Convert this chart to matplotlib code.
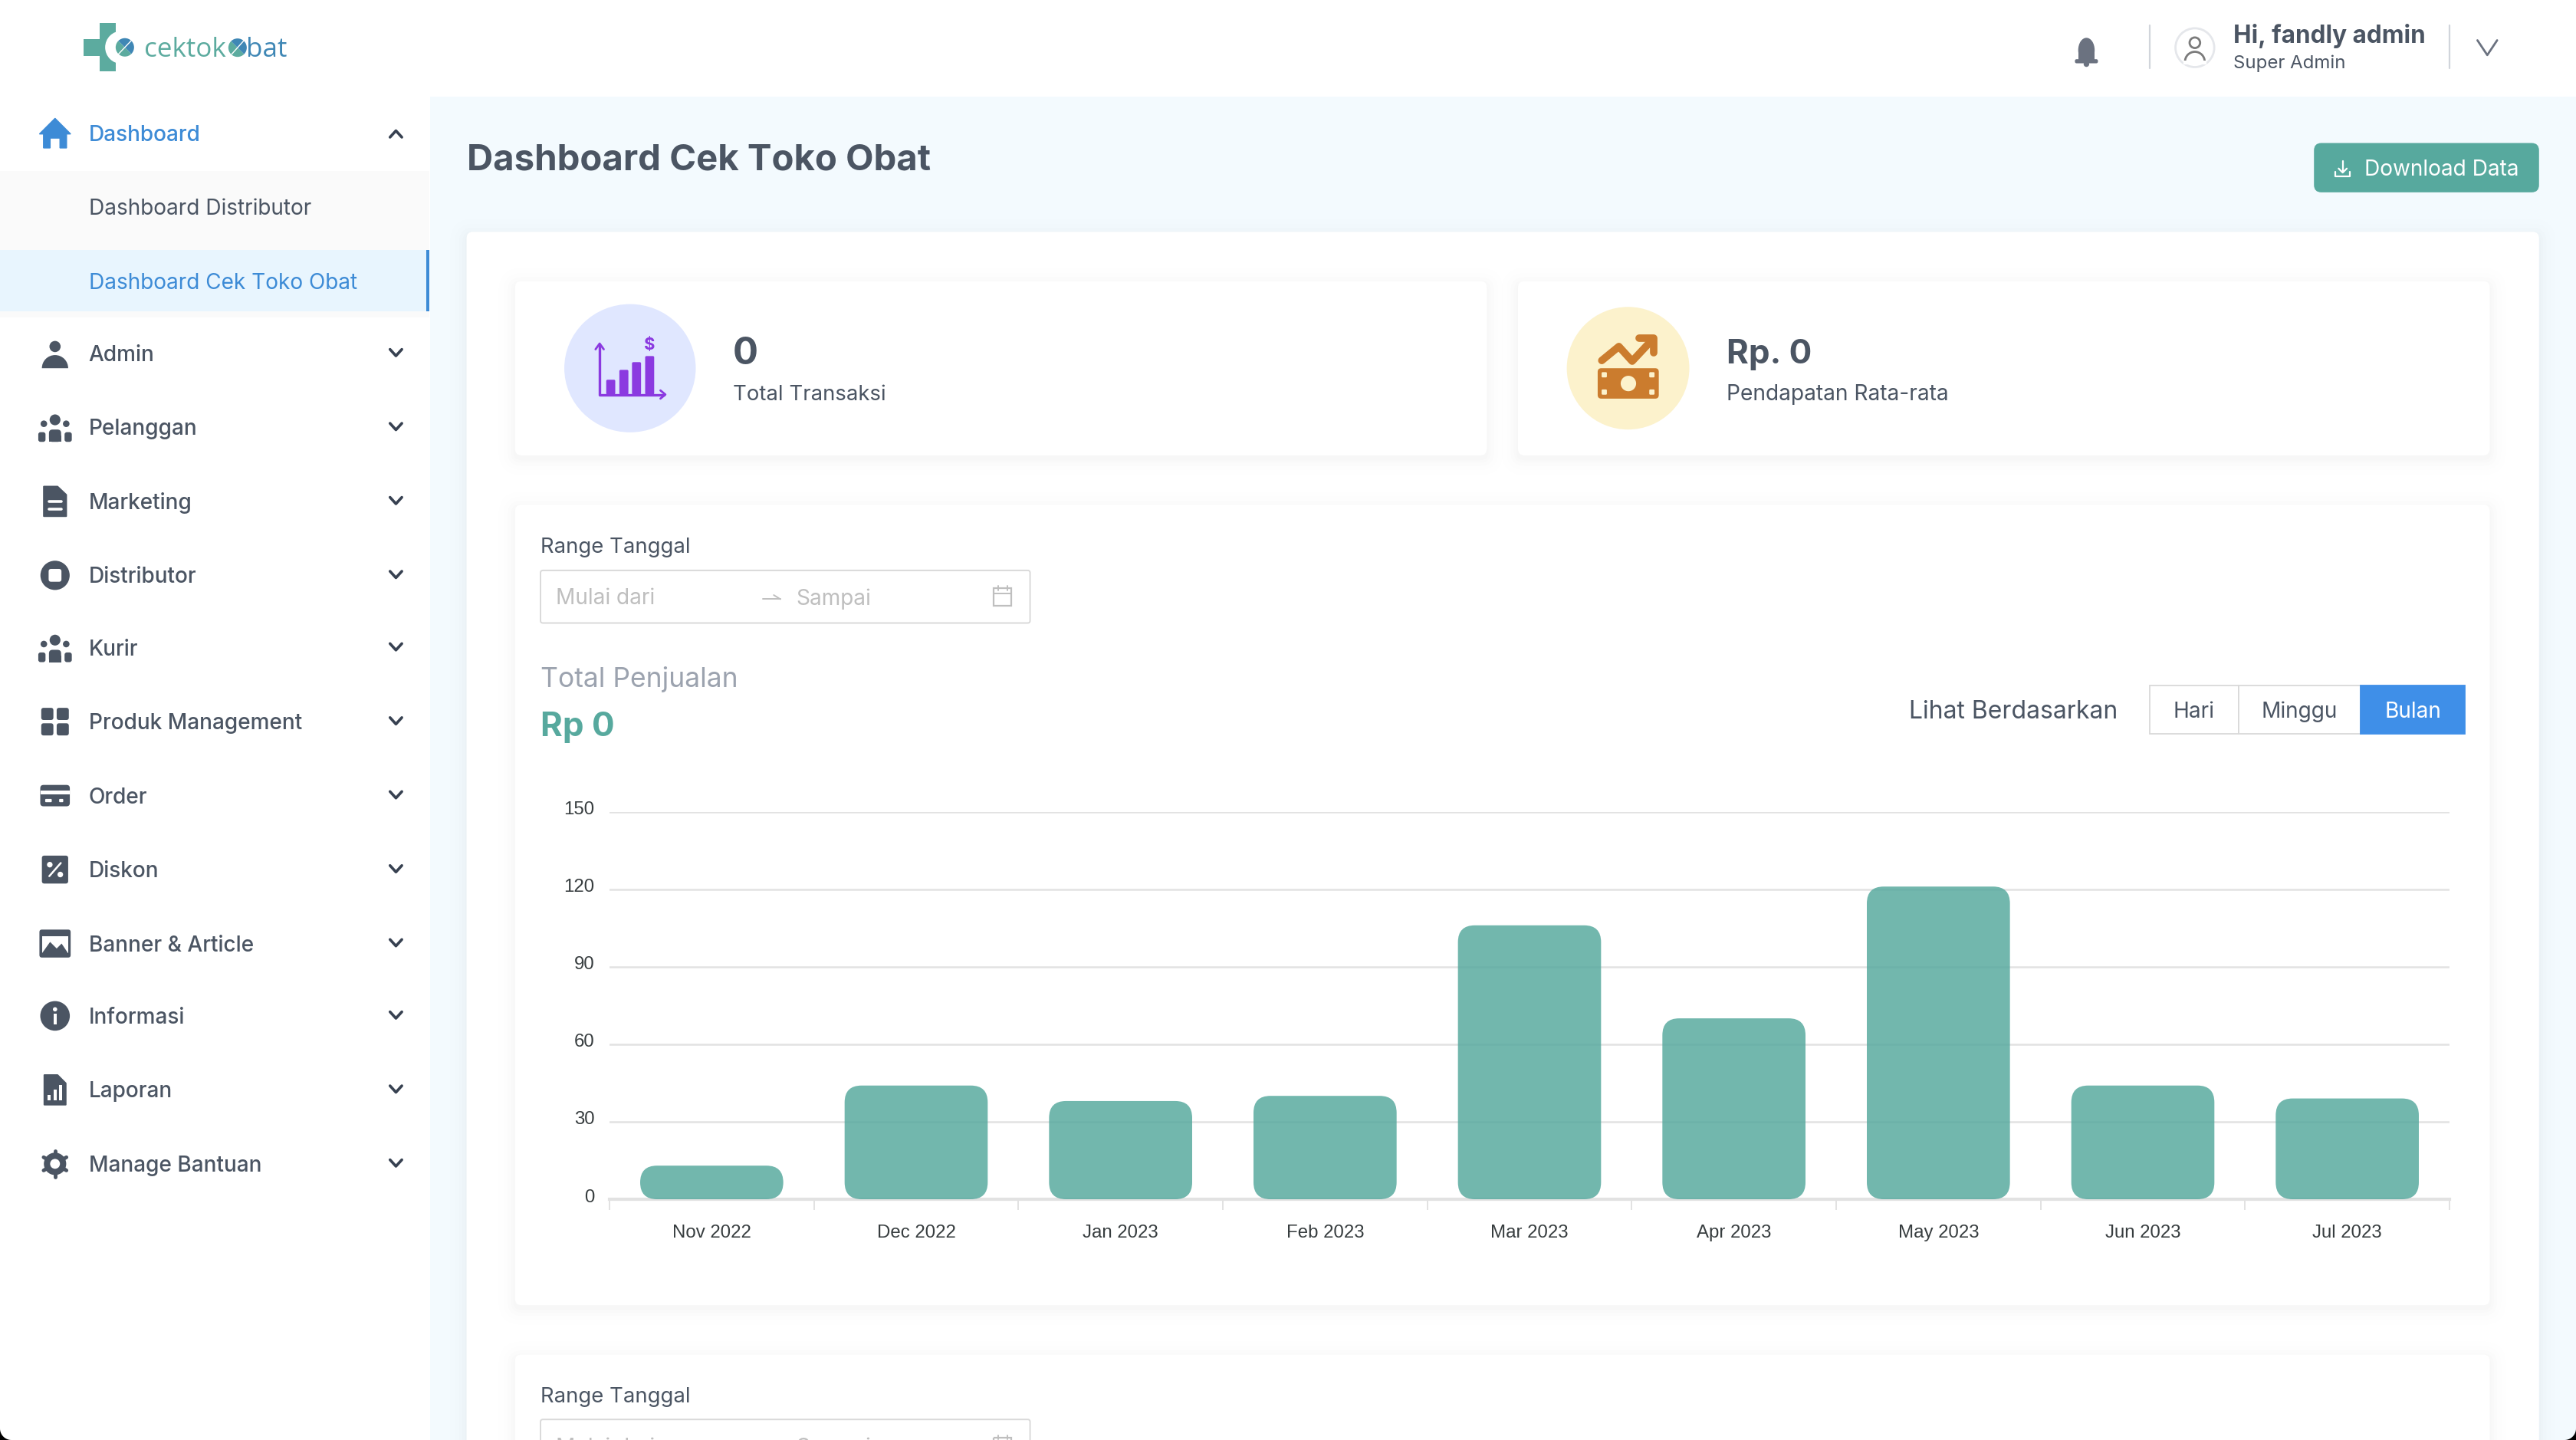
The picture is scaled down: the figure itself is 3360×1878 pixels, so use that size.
import numpy as np
import matplotlib
matplotlib.use("Agg")
import matplotlib.pyplot as plt
from matplotlib.patches import FancyBboxPatch, Circle, Ellipse, Polygon, Rectangle, Wedge
from matplotlib.transforms import ScaledTranslation

plt.rcParams['font.family'] = ['Inter', 'DejaVu Sans']

# chart data
months = ["Nov 2022", "Dec 2022", "Jan 2023", "Feb 2023", "Mar 2023",
          "Apr 2023", "May 2023", "Jun 2023", "Jul 2023"]
sales = [13, 44, 38, 40, 106, 70, 121, 44, 39]
y_ticks = [0, 30, 60, 90, 120, 150]

# sidebar menu
menu_labels = ["Admin", "Pelanggan", "Marketing", "Distributor", "Kurir", "Produk Management",
               "Order", "Diskon", "Banner & Article", "Informasi", "Laporan", "Manage Bantuan"]
menu_rows = [215, 260, 305, 350, 394, 439, 484, 529, 574, 618, 663, 708]
period_labels = ["Hari", "Minggu", "Bulan"]

GREY = "#4B5563"
BLUE = "#3D8BD6"
TEAL = "#57A99E"
PAGE_BG = "#F3FAFE"

W, H = 3360, 1878
fig = plt.figure(figsize=(W / 100, H / 100), dpi=100, facecolor="white")

# page axes, coordinates follow the screenshot at 1568 wide
bg = fig.add_axes([0, 0, 1, 1])
bg.set_xlim(0, 1568)
bg.set_ylim(876, 0)
bg.axis("off")


def px(size):
    # font height in image pixels to points
    return size * 0.72


def box(x0, y0, x1, y1, color, r=0.0, ax=bg, z=1, ec="none", lw=0):
    p = FancyBboxPatch((x0, y0), x1 - x0, y1 - y0, boxstyle=f"round,pad=0,rounding_size={r}",
                       fc=color, ec=ec, lw=lw, zorder=z)
    ax.add_patch(p)
    return p


def txt(x, y, s, size, color=GREY, weight="normal", ha="left", family=None, z=10):
    kw = {}
    if family:
        kw["family"] = family
    # Inter sits a little high with va=center
    return bg.text(x, y + 1.2, s, fontsize=px(size), color=color, fontweight=weight, ha=ha, va="center",
                   zorder=z, parse_math=False, **kw)


def card(x0, y0, x1, y1, r=4, z=2):
    # soft shadow, a few stacked translucent boxes
    for grow, a in [(10, 0.004), (7, 0.005), (4.5, 0.007), (2.5, 0.009), (1, 0.009)]:
        p = box(x0 - grow, y0 - grow + 2, x1 + grow, y1 + grow + 2, "black", r + grow, z=z)
        p.set_alpha(a)
    box(x0, y0, x1, y1, "white", r, z=z + 0.1)


def line(xs, ys, color=GREY, lw=2.0, z=10):
    bg.plot(xs, ys, color=color, lw=lw, zorder=z, solid_capstyle="round", solid_joinstyle="round")


def chevron(x, y, up=False, size=3.6, color="#374151", lw=2.6):
    d = -1 if up else 1
    line([x - size, x, x + size], [y - d * size * 0.55, y + d * size * 0.55, y - d * size * 0.55], color, lw)


def person(x, y, c=GREY, z=10):
    bg.add_patch(Circle((x, y - 4.2), 3.4, fc=c, ec="none", zorder=z))
    bg.add_patch(Wedge((x, y + 9), 8, 180, 360, fc=c, ec="none", zorder=z))


def people(x, y):
    bg.add_patch(Circle((x, y - 4.6), 3.3, fc=GREY, zorder=10))
    bg.add_patch(Circle((x - 6.8, y - 2.2), 2.0, fc=GREY, zorder=10))
    bg.add_patch(Circle((x + 6.8, y - 2.2), 2.0, fc=GREY, zorder=10))
    box(x - 3.7, y + 1.3, x + 3.7, y + 8.8, GREY, 2.2, z=10)
    bg.add_patch(Rectangle((x - 3.7, y + 5), 7.4, 3.8, fc=GREY, zorder=10))
    box(x - 10.2, y + 2.9, x - 5.8, y + 8.8, GREY, 1.4, z=10)
    box(x + 5.8, y + 2.9, x + 10.2, y + 8.8, GREY, 1.4, z=10)


def draw_icon(name, x, y):
    if name == "Admin":
        person(x, y)
    elif name in ("Pelanggan", "Kurir"):
        people(x, y)
    elif name == "Marketing":
        bg.add_patch(Polygon([(x - 6.8, y - 9), (x + 1.5, y - 9), (x + 6.8, y - 4), (x + 6.8, y + 9), (x - 6.8, y + 9)],
                             fc=GREY, ec=GREY, lw=1.5, joinstyle="round", zorder=10))
        line([x - 3.6, x + 3.6], [y + 0.2, y + 0.2], "white", 2.6, 11)
        line([x - 3.6, x + 3.6], [y + 4.5, y + 4.5], "white", 2.6, 11)
    elif name == "Distributor":
        bg.add_patch(Circle((x, y), 8.9, fc=GREY, zorder=10))
        box(x - 3.9, y - 3.9, x + 3.9, y + 3.9, "white", 1.5, z=11)
    elif name == "Produk Management":
        for dx in (-4.7, 4.7):
            for dy in (-4.7, 4.7):
                box(x + dx - 3.7, y + dy - 3.7, x + dx + 3.7, y + dy + 3.7, GREY, 1.5, z=10)
    elif name == "Order":
        box(x - 9, y - 6.5, x + 9, y + 6.5, GREY, 2, z=10)
        bg.add_patch(Rectangle((x - 9, y - 3), 18, 2.2, fc="white", zorder=11))
        box(x - 6, y + 2, x - 2, y + 4, "white", 0.5, z=11)
        box(x + 2.5, y + 2, x + 5, y + 4, "white", 0.5, z=11)
    elif name == "Diskon":
        box(x - 8, y - 8.5, x + 8, y + 8.5, GREY, 1.5, z=10)
        line([x - 3.5, x + 3.5], [y + 4, y - 4], "white", 1.8, 11)
        bg.add_patch(Circle((x - 3.2, y - 3), 1.7, fc="white", zorder=11))
        bg.add_patch(Circle((x + 3.2, y + 3), 1.7, fc="white", zorder=11))
    elif name == "Banner & Article":
        box(x - 9.5, y - 8.5, x + 9.5, y + 8.5, GREY, 1.5, z=10)
        bg.add_patch(Rectangle((x - 8, y - 4.5), 16, 10.5, fc="white", zorder=11))
        bg.add_patch(Polygon([(x - 8, y + 6), (x - 3, y - 1), (x + 1, y + 3), (x + 4, y), (x + 8, y + 6)],
                             fc=GREY, zorder=12))
    elif name == "Informasi":
        bg.add_patch(Circle((x, y), 9, fc=GREY, zorder=10))
        bg.add_patch(Circle((x, y - 4), 1.3, fc="white", zorder=11))
        bg.add_patch(Rectangle((x - 1, y - 1.5), 2, 6.5, fc="white", zorder=11))
    elif name == "Laporan":
        bg.add_patch(Polygon([(x - 6.5, y - 9), (x + 1.5, y - 9), (x + 6.5, y - 4), (x + 6.5, y + 9), (x - 6.5, y + 9)],
                             fc=GREY, ec=GREY, lw=1.5, joinstyle="round", zorder=10))
        for dx, top in [(-3.5, 3), (0, 0), (3.5, -3)]:
            bg.add_patch(Rectangle((x + dx - 1, y + top), 2, 6.5 - top, fc="white", zorder=11))
    elif name == "Manage Bantuan":
        for a in np.arange(0, 180, 60):
            t = np.deg2rad(a + 90)
            line([x - 8 * np.cos(t), x + 8 * np.cos(t)], [y - 8 * np.sin(t), y + 8 * np.sin(t)], GREY, 3.5)
        bg.add_patch(Circle((x, y), 6.8, fc=GREY, zorder=10.5))
        bg.add_patch(Circle((x, y), 3, fc="white", zorder=11))


# page backgrounds
bg.add_patch(Rectangle((262, 59), 1306, 817, fc=PAGE_BG, zorder=0))

# sidebar active group
bg.add_patch(Rectangle((0, 104), 261.5, 89, fc="#FAFAFA", zorder=1))
bg.add_patch(Rectangle((0, 152), 261.5, 37.5, fc="#E8F5FE", zorder=1.1))
bg.add_patch(Rectangle((259.5, 152), 2, 37.5, fc=BLUE, zorder=1.2))

# logo
LOGO_TEAL = "#5CAB9F"
bg.add_patch(Rectangle((60.8, 14), 9.7, 29.5, fc=LOGO_TEAL, zorder=3))
bg.add_patch(Rectangle((51, 23.6), 25, 10.3, fc=LOGO_TEAL, zorder=3))
bg.add_patch(Circle((74, 28.8), 10, fc="white", zorder=3.5))
bg.add_patch(Wedge((76, 28.8), 5.6, 45, 225, fc=LOGO_TEAL, zorder=4))
bg.add_patch(Wedge((76, 28.8), 5.6, 225, 45, fc="#3F87B5", zorder=4))
line([72, 80], [33, 24.6], "white", 1.0, 5)
txt(87.5, 29, "cektok", 35, LOGO_TEAL, "medium", family="Open Sans")
bg.add_patch(Wedge((144.6, 29), 5.6, 45, 225, fc=LOGO_TEAL, zorder=4))
bg.add_patch(Wedge((144.6, 29), 5.6, 225, 45, fc="#3F87B5", zorder=4))
line([141, 148.5], [33, 24.6], "white", 1.0, 5)
txt(150, 29, "bat", 35, "#3F87B5", "medium", family="Open Sans")

# sidebar items
bg.add_patch(Polygon([(33.5, 72), (43, 81.5), (40.5, 81.5), (40.5, 90), (36.5, 90), (36.5, 84), (30.5, 84),
                      (30.5, 90), (26.5, 90), (26.5, 81.5), (24, 81.5)], fc=BLUE, ec=BLUE, lw=1, zorder=10))
txt(54, 81, "Dashboard", 28, BLUE, "medium")
chevron(241, 81.5, up=True)
txt(54, 126, "Dashboard Distributor", 28, GREY)
txt(54, 171, "Dashboard Cek Toko Obat", 28, BLUE)
for label, row in zip(menu_labels, menu_rows):
    draw_icon(label, 33.5, row)
    txt(54, row, label, 28, GREY, "medium")
    chevron(241, row - 0.5)

# header right side
bg.add_patch(Ellipse((1270, 30.5), 10, 15, fc="#6B7280", zorder=10))
bg.add_patch(Rectangle((1265, 30.5), 10, 6, fc="#6B7280", zorder=10))
box(1263, 36, 1277, 38.5, "#6B7280", 1, z=10)
bg.add_patch(Circle((1270, 39), 1.7, fc="#6B7280", zorder=9))
line([1308.6, 1308.6], [15.5, 41.5], "#D1D5DB", 1.6)
line([1491, 1491], [15.5, 41.5], "#D1D5DB", 1.6)
bg.add_patch(Circle((1336, 29), 11.8, fc="white", ec="#E5E7EB", lw=2, zorder=10))
bg.add_patch(Circle((1336, 26), 3.2, fc="none", ec="#7B7B7B", lw=2, zorder=11))
bg.add_patch(Wedge((1336, 37.5), 6, 180, 360, fc="none", ec="#7B7B7B", lw=2, zorder=11))
bg.add_patch(Rectangle((1329, 37), 14, 2, fc="white", zorder=11.5))
txt(1359.5, 20.5, "Hi, fandly admin", 31.5, GREY, "bold")
txt(1359.5, 37.5, "Super Admin", 24, GREY)
line([1508, 1514, 1520], [24.5, 33.5, 24.5], "#6B7280", 2.0)

# title row
txt(284, 96.5, "Dashboard Cek Toko Obat", 47.3, GREY, "bold")
box(1408.5, 87, 1545.5, 117, TEAL, 4.5, z=3)
txt(1439, 102, "Download Data", 28, "white")
line([1426, 1426], [98, 104.5], "white", 1.6)
line([1423.5, 1426, 1428.5], [102.5, 105, 102.5], "white", 1.6)
line([1421.5, 1421.5, 1430.5, 1430.5], [104.5, 107.5, 107.5, 104.5], "white", 1.6)

# big white panel, runs off the bottom of the page
card(284, 141, 1545.5, 900, z=1.5)

# stat cards
card(313.5, 171, 905, 277)
card(924, 171, 1515.5, 277)

bg.add_patch(Ellipse((383.5, 224), 80, 78, fc="#E0E7FF", zorder=4))
PURPLE = "#8B3AE0"
line([365, 365, 404], [210, 240, 240], PURPLE, 2.4, 5)
line([362.5, 365, 367.5], [212.5, 209, 212.5], PURPLE, 2.0, 5)
line([402, 405, 402], [237.5, 240, 242.5], PURPLE, 2.0, 5)
for x0, top in [(369, 231), (377, 225), (384.7, 220.3), (392.7, 216.6)]:
    box(x0, top, x0 + 5.5, 240, PURPLE, 0.8, z=5)
txt(395.3, 208.5, "$", 22, PURPLE, "bold", ha="center")
txt(446, 214.5, "0", 49, GREY, "bold")
txt(446, 239, "Total Transaksi", 27.5, GREY)

ORANGE = "#CB7C2E"
CREAM = "#FCF2CC"
bg.add_patch(Circle((991, 224), 37.3, fc=CREAM, zorder=4))
box(972.5, 224, 1009.7, 242.5, ORANGE, 2.2, z=5)
bg.add_patch(Circle((991.2, 233.3), 4.7, fc=CREAM, zorder=6))
for cx, cy in [(976.5, 228), (976.5, 238.5), (1005.5, 228), (1005.5, 238.5)]:
    box(cx - 1.6, cy - 1.6, cx + 1.6, cy + 1.6, CREAM, 0.6, z=6)
line([975, 985.4, 993.5, 1005.6], [219.3, 210.8, 219.7, 206.8], ORANGE, 7, 5)
line([997.5, 1006.5, 1006.5], [205.5, 205.5, 214.5], ORANGE, 7, 5)
txt(1051, 214.5, "Rp. 0", 44, GREY, "bold")
txt(1051, 239, "Pendapatan Rata-rata", 28.2, GREY)


def date_range(y_label, y_box):
    txt(329, y_label, "Range Tanggal", 27.5, GREY)
    box(329, y_box, 627, y_box + 32, "white", 1.5, z=4, ec="#D9D9D9", lw=1.4)
    c = "#BFBFBF"
    yc = y_box + 16
    txt(338.5, yc, "Mulai dari", 28, c, z=5)
    txt(484.5, yc, "Sampai", 28, c, z=5)
    line([464.5, 475], [yc + 1.5, yc + 1.5], c, 1.4, 5)
    line([471, 475], [yc - 1, yc + 1.5], c, 1.4, 5)
    bg.add_patch(Rectangle((605, yc - 5), 10.5, 10.5, fc="none", ec=c, lw=1.6, zorder=5))
    line([605, 615.5], [yc - 2, yc - 2], c, 1.4, 5)
    line([607.5, 607.5], [yc - 6.5, yc - 4], c, 1.4, 5)
    line([613, 613], [yc - 6.5, yc - 4], c, 1.4, 5)


# sales chart card
card(313.5, 307, 1515.5, 794)
date_range(332, 347)
txt(329, 412, "Total Penjualan", 35.5, "#9CA3AF")
txt(329, 441, "Rp 0", 44, TEAL, "bold")
txt(1162, 432, "Lihat Berdasarkan", 32, GREY)

# period switch
edges = [1308.5, 1362.5, 1437, 1500.5]
for i, label in enumerate(period_labels):
    on = label == "Bulan"
    bg.add_patch(Rectangle((edges[i], 417), edges[i + 1] - edges[i], 29.5, fc=("#3F8FE8" if on else "white"),
                           ec=("#3F8FE8" if on else "#D9D9D9"), lw=1.3, zorder=(6 if on else 5)))
    txt((edges[i] + edges[i + 1]) / 2, 432, label, 28, "white" if on else GREY, ha="center")

# second card, cut by the page bottom
card(313.5, 824, 1515.5, 900)
date_range(848.5, 863.5)

# window corners
for xc, a0 in [(7, 90), (1561, 0)]:
    t = np.deg2rad(np.linspace(a0, a0 + 90, 20))
    arc = list(zip(xc + 7 * np.cos(t), 869 + 7 * np.sin(t)))
    cx = 0 if a0 == 90 else 1568
    bg.add_patch(Polygon(arc + [(cx, 876)], fc="black", ec="none", zorder=20))

# bar chart, placed by pixel box
left, right, top, bottom = 795, 3195, 1058.5, 1564
ax = fig.add_axes([left / W, 1 - bottom / H, (right - left) / W, (bottom - top) / H])
ax.patch.set_alpha(0)
ax.set_xlim(0, len(months))
ax.set_ylim(0, 150)
ax.set_zorder(5)

# rounded bars, corner radius 22 image px on both axes
x_unit = (right - left) / len(months)
y_unit = (bottom - top) / 150
radius = 22 / x_unit
aspect = (22 / y_unit) / radius
bar_w = 0.7
for i, v in enumerate(sales):
    ax.add_patch(FancyBboxPatch((i + 0.5 - bar_w / 2, 0), bar_w, v,
                                boxstyle=f"round,pad=0,rounding_size={radius}",
                                mutation_aspect=aspect, fc=TEAL, ec="none", alpha=0.84, zorder=3,
                                clip_on=False))

ax.set_yticks(y_ticks)
ax.set_yticklabels(y_ticks)
ax.grid(axis="y", color="#E2E2E2", lw=1.8, zorder=1)
ax.set_axisbelow(True)
ax.set_xticks(np.arange(len(months) + 1))
ax.set_xticklabels([])
ax.set_xticks(np.arange(len(months)) + 0.5, minor=True)
ax.set_xticklabels(months, minor=True)
ax.tick_params(axis="x", which="major", length=10, width=1.4, color="#E2E2E2")
ax.tick_params(axis="x", which="minor", length=0, pad=24, labelsize=px(24), labelcolor="#373D3F")
ax.tick_params(axis="y", length=0, pad=14, labelsize=px(24), labelcolor="#373D3F")
for lab in ax.get_xticklabels(minor=True) + ax.get_yticklabels():
    lab.set_family("Liberation Sans")
for lab in ax.get_yticklabels():
    lab.set_transform(lab.get_transform() + ScaledTranslation(0, 5 / 100, fig.dpi_scale_trans))
for name in ["top", "left", "right"]:
    ax.spines[name].set_visible(False)
ax.spines["bottom"].set_color("#E2E2E2")
ax.spines["bottom"].set_linewidth(3)

fig.savefig("out.png", dpi=100)
